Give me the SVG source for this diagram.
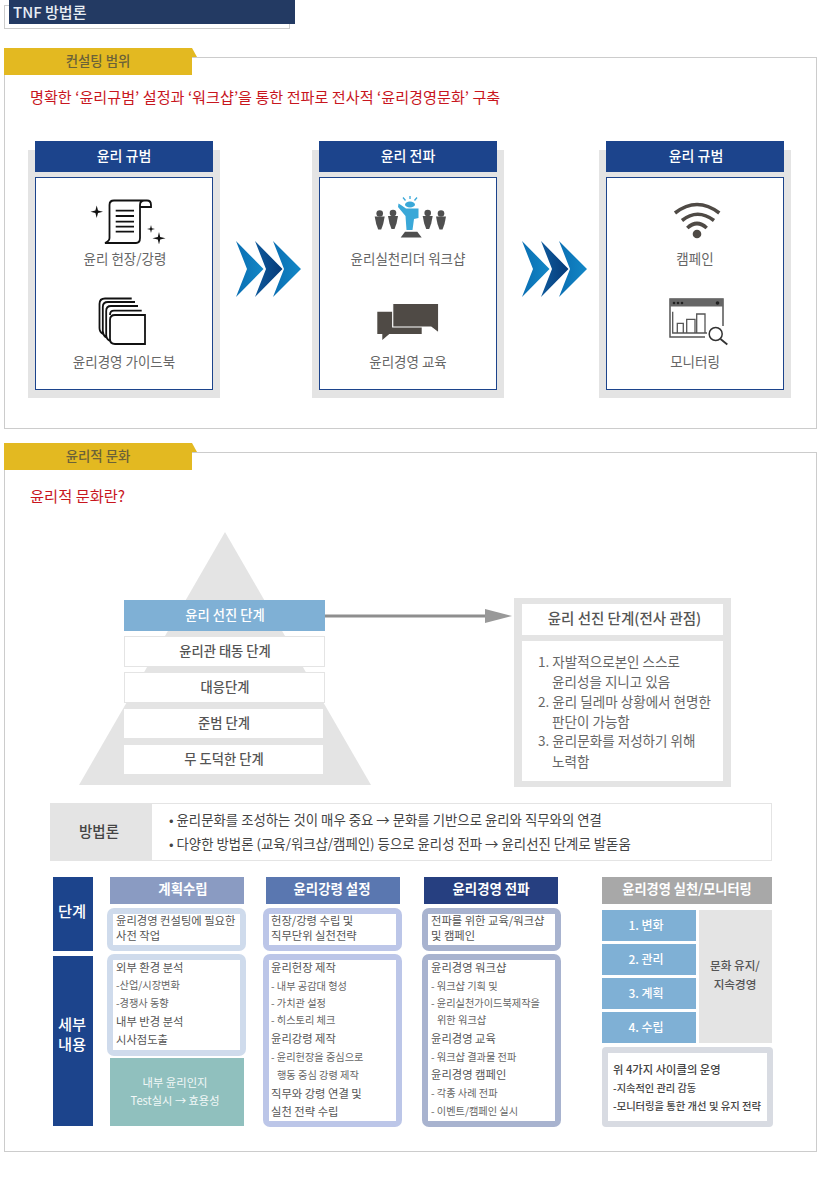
<svg xmlns="http://www.w3.org/2000/svg" width="826" height="1179" viewBox="0 0 826 1179">
<style>
text{font-family:"Noto Sans CJK KR","Noto Sans",sans-serif;fill:#555;font-size:12px}
.m{text-anchor:middle}
.frame{fill:#fff;stroke:#ccc;stroke-width:1}
.tab{fill:#e3b921}
.tabt{font-size:13.4px;fill:#6b6238;font-weight:500}
.red{font-size:15.15px;fill:#c8161e}
.gray{fill:#e4e4e4}
.head{fill:#1c448c}
.headt{font-size:14px;fill:#fff;font-weight:500}
.in{fill:#fff;stroke:#1c448c;stroke-width:1}
.lab{font-size:13.5px;fill:#666}
.ic{fill:none;stroke:#111;stroke-width:1.8}
.dk{fill:#4f4a45}
.row{fill:#fff;stroke:#e4e4e4;stroke-width:1}
.rowt{font-size:13.3px;fill:#555;font-weight:500}
.wht{fill:#fff}
.list{font-size:13.55px;fill:#666}
.met{font-size:13.4px;fill:#444}
.side{fill:#1c448c}
.sidet{font-size:15.3px;fill:#fff;font-weight:500}
.colt{font-size:13.4px;fill:#fff;font-weight:700}
.b{font-size:11.3px;fill:#555}
.s{font-size:10.2px;fill:#666}
.blue{fill:#7fb0d5}
.bluet{font-size:12px;fill:#fff;font-weight:500}
</style>
<defs>
<linearGradient id="cv1" x1="0" y1="0" x2="1" y2="0"><stop offset="0" stop-color="#0a6fb3"/><stop offset="1" stop-color="#1387c6"/></linearGradient>
<linearGradient id="cv2" x1="0" y1="0" x2="1" y2="0"><stop offset="0" stop-color="#0f5a9c"/><stop offset="1" stop-color="#053a78"/></linearGradient>
<g id="chev">
<polygon points="0,0 27.5,28 0,56 11,28" fill="url(#cv1)"/>
<polygon points="19,0 46.5,28 19,56 30,28" fill="url(#cv2)"/>
<polygon points="37,0 65,28 37,56 48,28" fill="url(#cv1)"/>
</g>
<g id="man"><circle cx="0" cy="0" r="3.3" fill="#4f4f4f"/><path d="M-5 3H5L3.5 10.5 1.5 16H-1.5L-3.5 10.5Z" fill="#4f4f4f"/></g>
<marker id="ah" markerUnits="userSpaceOnUse" markerWidth="28" markerHeight="16" refX="0" refY="8" orient="auto"><polygon points="0,1 27,8 0,15" fill="#999"/></marker>
</defs>

<rect width="826" height="1179" fill="#fff"/>

<g id="title">
<rect class="frame" x="4.5" y="5.5" width="285" height="23"/>
<rect x="9" y="0" width="286" height="24" fill="#233a63"/>
<text x="13" y="18" style="font-size:15px;fill:#e8eef4;font-weight:500">TNF 방법론</text>
</g>

<g id="section-scope">
<rect class="frame" x="4.5" y="57.5" width="812" height="371"/>
<rect class="tab" x="4" y="48" width="188" height="27"/>
<polygon class="tab" points="192,48 197,57 192,57"/>
<text class="tabt m" x="98" y="66">컨설팅 범위</text>
<text class="red" x="30" y="103">명확한 ‘윤리규범’ 설정과 ‘워크샵’을 통한 전파로 전사적 ‘윤리경영문화’ 구축</text>
</g>

<g id="node-norm">
<rect class="gray" x="28" y="150" width="192" height="248"/>
<rect class="head" x="35" y="141" width="178" height="31"/>
<text class="headt m" x="124" y="161">윤리 규범</text>
<rect class="in" x="35.5" y="177.5" width="177" height="212"/>
<path class="ic" d="M105 243H136Q140 243 140 238V205Q140 200.5 144.5 200.5H114Q109.5 200.5 109.5 205V238Q109.5 241 105 243ZM144.5 200.5H147Q151 200.5 151 205V207H140M115.7 210.7H134M115.7 216H134M115.7 221.7H134M115.7 226.7H134M115.7 231.7H134"/>
<path d="M96.7 205.5L98 210.4 103 211.7 98 213 96.7 218 95.4 213 90.5 211.7 95.4 210.4ZM151 225L151.8 228.2 155 229 151.8 229.8 151 233 150.2 229.8 147 229 150.2 228.2ZM159 232L160.2 237.1 165.5 238.3 160.2 239.5 159 244.5 157.8 239.5 152.5 238.3 157.8 237.1Z" fill="#111"/>
<text class="lab m" x="125" y="264">윤리 헌장/강령</text>
<path class="ic" d="M115 315H145V344H115Q110 344 110 339V320Q110 315 115 315ZM131.7 298.5H105Q99.5 298.5 99.5 304V328Q99.5 332 103 334M135 302H108Q102.8 302 102.8 307V331Q102.8 335 106 337.500M138 306H111Q106.200 306 106.200 311V335Q106.200 339 110 341M141.700 310.700H114Q110 310.700 110 315"/>
<text class="lab m" x="124" y="367">윤리경영 가이드북</text>
</g>

<g id="node-spread">
<rect class="gray" x="312" y="150" width="192" height="248"/>
<rect class="head" x="319" y="141" width="178" height="31"/>
<text class="headt m" x="408" y="161">윤리 전파</text>
<rect class="in" x="319.5" y="177.5" width="177" height="212"/>
<use href="#man" x="379.700" y="213.500"/><use href="#man" x="393" y="213"/><use href="#man" x="427.700" y="213"/><use href="#man" x="441" y="213.500"/>
<ellipse cx="410" cy="204.500" rx="5" ry="3" fill="#3aa8d8"/>
<polygon points="398.500,203.500 401,205 406,208.500 418.500,208.500 418.500,218 414,219 412.500,230 406.500,230 405.500,216 398,207" fill="#3aa8d8"/>
<path d="M403 197.500L405.500 200.500M410 196V199M417 197.500L414.500 200.500" stroke="#3aa8d8" stroke-width="1.300" fill="none"/>
<polygon points="400.700,237.500 421.700,237.500 417.300,231.700 405,231.700" fill="#4f4f4f"/>
<text class="lab m" x="408" y="264">윤리실천리더 워크샵</text>
<path class="dk" d="M377.300 311.700H421.700V334H389.300L382.300 340V334H377.300Z"/>
<path class="dk" d="M392.700 303.300H438.700V333L431 327H392.700Z" stroke="#fff" stroke-width="1.200"/>
<text class="lab m" x="408" y="367">윤리경영 교육</text>
</g>

<g id="node-campaign">
<rect class="gray" x="599" y="150" width="192" height="248"/>
<rect class="head" x="606" y="141" width="178" height="31"/>
<text class="headt m" x="696" y="161">윤리 규범</text>
<rect class="in" x="606.5" y="177.5" width="177" height="212"/>
<path d="M675 213Q697 196 719.300 213M682 220.500Q697.500 208 714 220.500M687.300 228Q697 219 706.700 228" fill="none" stroke="#4f4a45" stroke-width="3.600"/>
<circle cx="697" cy="234" r="4.300" class="dk"/>
<text class="lab m" x="695" y="264">캠페인</text>
<path d="M723 326V299H670V337H705" fill="none" stroke="#555" stroke-width="1.500"/>
<rect x="670" y="299" width="53" height="7.500" fill="#666"/>
<circle cx="674" cy="303" r="1.300" fill="#222"/><circle cx="678" cy="303" r="1.300" fill="#222"/><circle cx="682" cy="303" r="1.300" fill="#222"/><circle cx="717.500" cy="303" r="1.800" fill="#222"/>
<path d="M672.700 311.700V333H707M677.300 332.700V323.300H683.300V332.700M686.700 332.700V319.300H695V332.700M696.700 332.700V314H705V332.700" fill="none" stroke="#555" stroke-width="1.300"/>
<circle cx="715.700" cy="334" r="6.500" fill="#fff" stroke="#333" stroke-width="1.500"/>
<path d="M720.500 339L727.300 344.500" stroke="#333" stroke-width="1.800"/>
<text class="lab m" x="695" y="367">모니터링</text>
</g>

<g id="section-culture">
<rect class="frame" x="4.5" y="452.5" width="812" height="699"/>
<rect class="tab" x="4" y="443" width="188" height="27"/>
<polygon class="tab" points="192,443 197,452 192,452"/>
<text class="tabt m" x="98" y="461">윤리적 문화</text>
<text class="red" x="30" y="502" style="font-size:15.3px">윤리적 문화란?</text>
</g>

<g id="pyramid">
<polygon class="gray" points="225,532 371,785 79,785"/>
<g id="stage-5"><rect x="124" y="600" width="201" height="31" fill="#7fb0d5"/><text class="m" x="225" y="620" style="font-size:13.3px;fill:#fff;font-weight:500">윤리 선진 단계</text></g>
<g id="stage-4"><rect class="row" x="124.500" y="636.500" width="200" height="30"/><text class="rowt m" x="225" y="656">윤리관 태동 단계</text></g>
<g id="stage-3"><rect class="row" x="124.500" y="672.500" width="200" height="30"/><text class="rowt m" x="225" y="692">대응단계</text></g>
<g id="stage-2"><rect class="wht" x="124" y="709" width="199" height="29"/><text class="rowt m" x="224" y="728">준범 단계</text></g>
<g id="stage-1"><rect class="wht" x="124" y="745" width="199" height="29"/><text class="rowt m" x="224" y="764">무 도덕한 단계</text></g>
</g>

<g id="connectors">
<line x1="325" y1="616" x2="485" y2="616" stroke="#8e8e8e" stroke-width="3" marker-end="url(#ah)"/>
<use href="#chev" x="236" y="241"/>
<use href="#chev" x="522" y="241"/>
</g>

<g id="node-advanced">
<rect class="gray" x="514" y="598" width="217" height="189"/>
<rect class="wht" x="522" y="604" width="201" height="31"/>
<text class="m" x="624.500" y="624" style="font-size:14.500px;fill:#555;font-weight:500">윤리 선진 단계(전사 관점)</text>
<rect class="wht" x="522" y="641" width="201" height="140"/>
<text class="list" x="538" y="667">1. 자발적으로본인 스스로</text>
<text class="list" x="552" y="687">윤리성을 지니고 있음</text>
<text class="list" x="538" y="707">2. 윤리 딜레마 상황에서 현명한</text>
<text class="list" x="552" y="727">판단이 가능함</text>
<text class="list" x="538" y="746">3. 윤리문화를 저성하기 위해</text>
<text class="list" x="552" y="767">노력함</text>
</g>

<g id="node-method">
<rect x="50.500" y="803.500" width="721" height="57" fill="#fff" stroke="#e4e4e4"/>
<rect class="gray" x="50" y="803" width="102" height="58"/>
<text class="m" x="99" y="837" style="font-size:14.500px;fill:#444;font-weight:500">방법론</text>
<text class="met" x="169" y="825">• 윤리문화를 조성하는 것이 매우 중요 → 문화를 기반으로 윤리와 직무와의 연결</text>
<text class="met" x="169" y="849">• 다양한 방법론 (교육/워크샵/캠페인) 등으로 윤리성 전파 → 윤리선진 단계로 발돋움</text>
</g>

<g id="side-labels">
<rect class="side" x="53" y="877" width="40" height="74"/>
<text class="sidet m" x="72" y="917">단계</text>
<rect class="side" x="53" y="956" width="40" height="170"/>
<text class="sidet m" x="72" y="1030">세부</text>
<text class="sidet m" x="72" y="1050">내용</text>
</g>

<g id="col-plan">
<rect x="110" y="877" width="134" height="27" fill="#8a9bc2"/>
<text class="colt m" x="183" y="894">계획수립</text>
<rect x="107" y="908" width="139" height="43" rx="7" fill="#cfdbec"/>
<rect class="wht" x="113" y="914" width="127" height="31"/>
<text class="b" x="116" y="925">윤리경영 컨설팅에 필요한</text>
<text class="b" x="116" y="940">사전 작업</text>
<rect x="107" y="954" width="139" height="102" rx="7" fill="#cfdbec"/>
<rect class="wht" x="113" y="960" width="127" height="90"/>
<text class="b" x="116" y="972">외부 환경 분석</text>
<text class="s" x="116" y="989">-산업/시장변화</text>
<text class="s" x="116" y="1007">-경쟁사 동향</text>
<text class="b" x="116" y="1026">내부 반경 분석</text>
<text class="b" x="116" y="1044">시사점도출</text>
<rect x="110" y="1058" width="134" height="68" fill="#90c0be"/>
<text class="m" x="175" y="1087" style="font-size:11.300px;fill:#f2f8f8">내부 윤리인지</text>
<text class="m" x="175" y="1105" style="font-size:11.200px;fill:#f2f8f8">Test실시 → 효용성</text>
</g>

<g id="col-code">
<rect x="266" y="877" width="134" height="27" fill="#5a77b0"/>
<text class="colt m" x="332" y="894">윤리강령 설정</text>
<rect x="263" y="908" width="139" height="43" rx="7" fill="#bcc6e8"/>
<rect class="wht" x="269" y="914" width="127" height="31"/>
<text class="b" x="271" y="925">헌장/강령 수립 및</text>
<text class="b" x="271" y="940">직무단위 실천전략</text>
<rect x="263" y="954" width="139" height="173" rx="7" fill="#bcc6e8"/>
<rect class="wht" x="269" y="960" width="127" height="161"/>
<text class="b" x="271" y="972">윤리헌장 제작</text>
<text class="s" x="271" y="990">- 내부 공감대 형성</text>
<text class="s" x="271" y="1007">- 가치관 설정</text>
<text class="s" x="271" y="1024">- 히스토리 체크</text>
<text class="b" x="271" y="1043">윤리강령 제작</text>
<text class="s" x="271" y="1061">- 윤리헌장을 중심으로</text>
<text class="s" x="277" y="1079">행동 중심 강령 제작</text>
<text class="b" x="271" y="1098">직무와 강령 연결 및</text>
<text class="b" x="271" y="1116">실천 전략 수립</text>
</g>

<g id="col-spread">
<rect x="424" y="877" width="134" height="27" fill="#263f80"/>
<text class="colt m" x="491" y="894">윤리경영 전파</text>
<rect x="422" y="908" width="139" height="43" rx="7" fill="#a8b3cf"/>
<rect class="wht" x="428" y="914" width="127" height="31"/>
<text class="b" x="431" y="925">전파를 위한 교육/워크샵</text>
<text class="b" x="431" y="940">및 캠페인</text>
<rect x="422" y="954" width="139" height="173" rx="7" fill="#a8b3cf"/>
<rect class="wht" x="428" y="960" width="127" height="161"/>
<text class="b" x="431" y="972">윤리경영 워크샵</text>
<text class="s" x="431" y="990">- 워크샵 기획 및</text>
<text class="s" x="431" y="1007">- 윤리실천가이드북제작을</text>
<text class="s" x="437" y="1024">위한 워크샵</text>
<text class="b" x="431" y="1043">윤리경영 교육</text>
<text class="s" x="431" y="1061">- 워크샵 결과물 전파</text>
<text class="b" x="431" y="1079">윤리경영 캠페인</text>
<text class="s" x="431" y="1097">- 각종 사례 전파</text>
<text class="s" x="431" y="1115">- 이벤트/캠페인 실시</text>
</g>

<g id="col-practice">
<rect x="602" y="877" width="170" height="27" fill="#a8a8a8"/>
<text class="colt m" x="687" y="894" style="font-size:13.200px">윤리경영 실천/모니터링</text>
<rect class="blue" x="602" y="910" width="94" height="31"/><text class="bluet m" x="646" y="930">1. 변화</text>
<rect class="blue" x="602" y="944" width="94" height="31"/><text class="bluet m" x="646" y="964">2. 관리</text>
<rect class="blue" x="602" y="978" width="94" height="31"/><text class="bluet m" x="646" y="998">3. 계획</text>
<rect class="blue" x="602" y="1012" width="94" height="31"/><text class="bluet m" x="646" y="1032">4. 수립</text>
<rect class="gray" x="699" y="910" width="73" height="133"/>
<text class="m" x="735" y="970" style="font-size:11.600px;fill:#555;font-weight:500">문화 유지/</text>
<text class="m" x="735" y="989" style="font-size:11.600px;fill:#555;font-weight:500">지속경영</text>
<rect x="602" y="1047" width="171" height="80" rx="4" fill="#d8dbe2"/>
<rect class="wht" x="608" y="1053" width="159" height="68"/>
<text x="613" y="1074" style="font-size:11.300px;fill:#444;font-weight:500">위 4가지 사이클의 운영</text>
<text x="613" y="1092" style="font-size:10.200px;fill:#444;font-weight:500">-지속적인 관리 감동</text>
<text x="613" y="1110" style="font-size:10.300px;fill:#444;font-weight:500">-모니터링을 통한 개선 및 유지 전략</text>
</g>
</svg>
